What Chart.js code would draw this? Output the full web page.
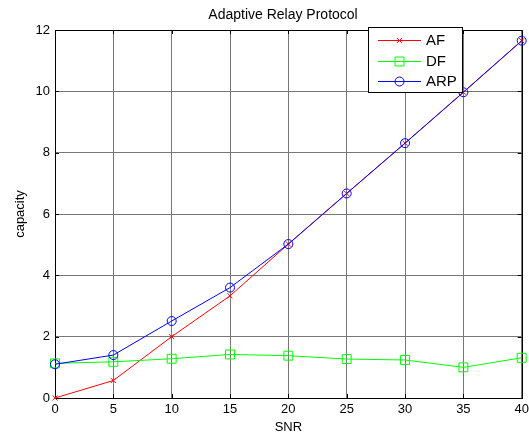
<!DOCTYPE html>
<html><head><meta charset="utf-8">
<script src="https://cdn.jsdelivr.net/npm/chart.js@4/dist/chart.umd.min.js"></script>
<style>html,body{margin:0;padding:0;background:#fff}#wrap{width:529px;height:436px}</style>
</head><body><div id="wrap"><canvas id="c"></canvas></div>
<script>
const snr = [0, 5, 10, 15, 20, 25, 30, 35, 40];
const afValues  = [0.0, 0.57, 2.0, 3.33, 5.02, 6.67, 8.31, 9.97, 11.65];
const dfValues  = [1.13, 1.18, 1.28, 1.42, 1.38, 1.27, 1.24, 1.0, 1.31];
const arpValues = [1.1, 1.4, 2.51, 3.6, 5.02, 6.67, 8.31, 9.97, 11.65];
const seriesNames = ['AF', 'DF', 'ARP'];
const xTicks = [0, 5, 10, 15, 20, 25, 30, 35, 40];
const yTicks = [0, 2, 4, 6, 8, 10, 12];

const FONT = 'Liberation Sans, Arial, sans-serif';
const toPts = v => v.map((y, i) => ({x: snr[i], y}));

const styles = [
  {color: '#ff0000', pointStyle: 'crossRot', r: 3.5, order: 3},
  {color: '#00ff00', pointStyle: 'rect', r: 6.3, order: 2},
  {color: '#0000ff', pointStyle: 'circle', r: 4.5, order: 1}
];

const extras = {
  id: 'extras',
  beforeDatasetsDraw(chart) {
    const {ctx, chartArea: a, scales: {x, y}} = chart;
    ctx.save();
    ctx.strokeStyle = '#000';
    ctx.lineWidth = 1;
    ctx.beginPath();
    xTicks.forEach(v => {
      const px = Math.round(x.getPixelForValue(v)) + 0.5;
      ctx.moveTo(px, a.bottom); ctx.lineTo(px, a.bottom - 4);
      ctx.moveTo(px, a.top); ctx.lineTo(px, a.top + 4);
    });
    yTicks.forEach(v => {
      const py = Math.round(y.getPixelForValue(v)) + 0.5;
      ctx.moveTo(a.left, py); ctx.lineTo(a.left + 4, py);
      ctx.moveTo(a.right, py); ctx.lineTo(a.right - 4, py);
    });
    ctx.stroke();
    ctx.strokeRect(Math.round(a.left) + 0.5, Math.round(a.top) + 0.5, Math.round(a.right - a.left), Math.round(a.bottom - a.top));
    ctx.restore();
  },
  afterDraw(chart) {
    const {ctx} = chart;
    ctx.save();
    ctx.fillStyle = '#000';
    ctx.font = '14px ' + FONT;
    ctx.textAlign = 'center';
    ctx.textBaseline = 'middle';
    ctx.fillText('Adaptive Relay Protocol', 283, 15);
    // legend
    const lx = 368, ly = 27, lw = 94, lh = 65;
    ctx.fillStyle = '#fff';
    ctx.fillRect(lx, ly, lw, lh);
    ctx.strokeStyle = '#000';
    ctx.lineWidth = 1;
    ctx.strokeRect(lx + 0.5, ly + 0.5, lw, lh);
    const rows = [40, 61, 81];
    seriesNames.forEach((n, i) => {
      const s = styles[i];
      const yy = rows[i];
      ctx.strokeStyle = s.color;
      ctx.lineWidth = 1;
      ctx.beginPath(); ctx.moveTo(378, yy + 0.5); ctx.lineTo(421, yy + 0.5); ctx.stroke();
      ctx.fillStyle = 'rgba(0,0,0,0)';
      Chart.helpers.drawPoint(ctx, {pointStyle: s.pointStyle, radius: s.r, borderWidth: 1}, 399.5, yy + 0.5);
      ctx.fillStyle = '#000';
      ctx.font = '15px ' + FONT;
      ctx.textAlign = 'left';
      ctx.fillText(n, 426, yy + 1);
    });
    ctx.restore();
  }
};

new Chart(document.getElementById('c'), {
  type: 'line',
  data: {
    datasets: [afValues, dfValues, arpValues].map((vals, i) => ({
      label: seriesNames[i],
      data: toPts(vals),
      order: styles[i].order,
      borderColor: styles[i].color,
      backgroundColor: 'rgba(0,0,0,0)',
      borderWidth: 1,
      pointStyle: styles[i].pointStyle,
      pointRadius: styles[i].r,
      pointBorderWidth: 1,
      pointBorderColor: styles[i].color,
      pointBackgroundColor: 'rgba(0,0,0,0)',
      tension: 0,
      clip: false
    }))
  },
  options: {
    responsive: true,
    maintainAspectRatio: false,
    animation: false,
    layout: {padding: {left: 0, right: 7, top: 30, bottom: 0}},
    plugins: {legend: {display: false}, title: {display: false}, tooltip: {enabled: false}},
    scales: {
      x: {
        type: 'linear', min: 0, max: 40,
        afterBuildTicks: s => { s.ticks = xTicks.map(v => ({value: v})); },
        afterFit: s => { s.height = 38; s.paddingRight = 0; s.paddingLeft = 0; },
        grid: {color: '#777', borderDash: [1, 1], drawTicks: false, lineWidth: 1},
        border: {display: false},
        ticks: {color: '#000', font: {family: FONT, size: 13}, padding: 4, maxRotation: 0},
        title: {display: true, text: 'SNR', color: '#000', font: {family: FONT, size: 13}, padding: {top: 0, bottom: 1}}
      },
      y: {
        type: 'linear', min: 0, max: 12,
        afterBuildTicks: s => { s.ticks = yTicks.map(v => ({value: v})); },
        afterFit: s => { s.width = 55; s.paddingTop = 0; s.paddingBottom = 0; },
        grid: {color: '#777', borderDash: [1, 1], drawTicks: false, lineWidth: 1},
        border: {display: false},
        ticks: {color: '#000', font: {family: FONT, size: 13}, padding: 5},
        title: {display: true, text: 'capacity', color: '#000', font: {family: FONT, size: 13}, padding: {top: 13, bottom: 6}}
      }
    }
  },
  plugins: [extras]
});
</script>
</body></html>
